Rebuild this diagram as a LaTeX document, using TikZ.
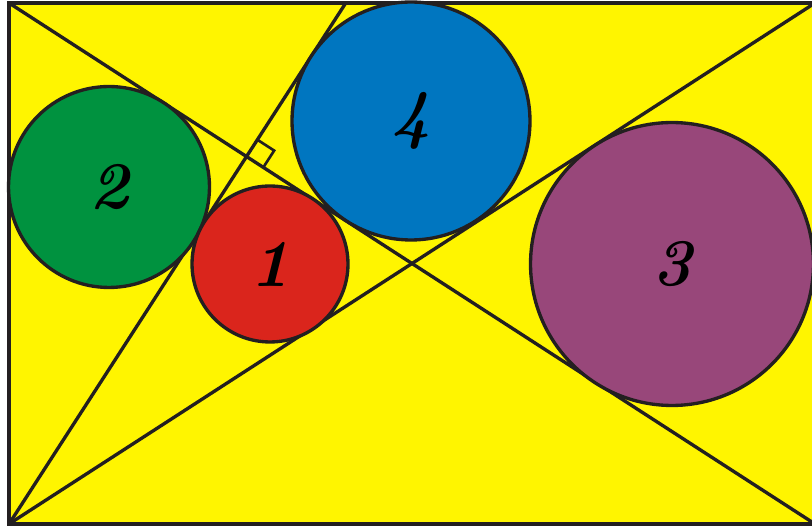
\documentclass[tikz,border=0pt]{standalone}
\usepackage{tikz}
\usetikzlibrary{calc}
\definecolor{sunyellow}{HTML}{FFF500}
\definecolor{discgreen}{HTML}{00923F}
\definecolor{discred}{HTML}{DA251C}
\definecolor{discblue}{HTML}{0076C0}
\definecolor{discplum}{HTML}{98477A}
\definecolor{ink}{HTML}{231F20}
\tikzset{
  ln/.style={draw=ink,line width=1.9pt},
  disc/.style={circle,draw=ink,line width=1.9pt,inner sep=0pt,
               font=\fontsize{38}{38}\selectfont\bfseries\itshape},
  rmark/.style={draw=ink,line width=1.5pt},
}

\begin{document}
\begin{tikzpicture}[x=0.02cm,y=-0.02cm]
\useasboundingbox (0,0) rectangle (812,526);
  % rectangle corners (right side runs past the page edge)
  \coordinate (A) at (9,524);
  \coordinate (B) at (815,524);
  \coordinate (C) at (815,3);
  \coordinate (D) at (9,3);
  \fill[sunyellow] (A) rectangle (C);
  \draw[ln] (A) rectangle (C);
  % diagonals and the perpendicular
  \coordinate (F) at ($(D)!(A)!(B)$);
  \coordinate (T) at (intersection of A--F and D--C);
  \draw[ln] (D) -- (B);
  \draw[ln] (A) -- (C);
  \draw[ln] (A) -- (T);
  \coordinate (Fa) at ($(F)!0.4cm!(T)$);
  \coordinate (Fb) at ($(F)!0.4cm!(B)$);
  \draw[rmark] (Fa) -- ($(Fa)+(Fb)-(F)$) -- (Fb);
  % discs
  \node[disc,fill=discgreen,minimum size=4.02cm] (d2) at (109,187) {2};
  \node[disc,fill=discred,minimum size=3.12cm] (d1) at (270,264) {1};
  \node[disc,fill=discblue,minimum size=4.76cm] (d4) at (411,121) {4};
  \node[disc,fill=discplum,minimum size=5.66cm] (d3) at (672,264) {3};
\end{tikzpicture}
\end{document}
